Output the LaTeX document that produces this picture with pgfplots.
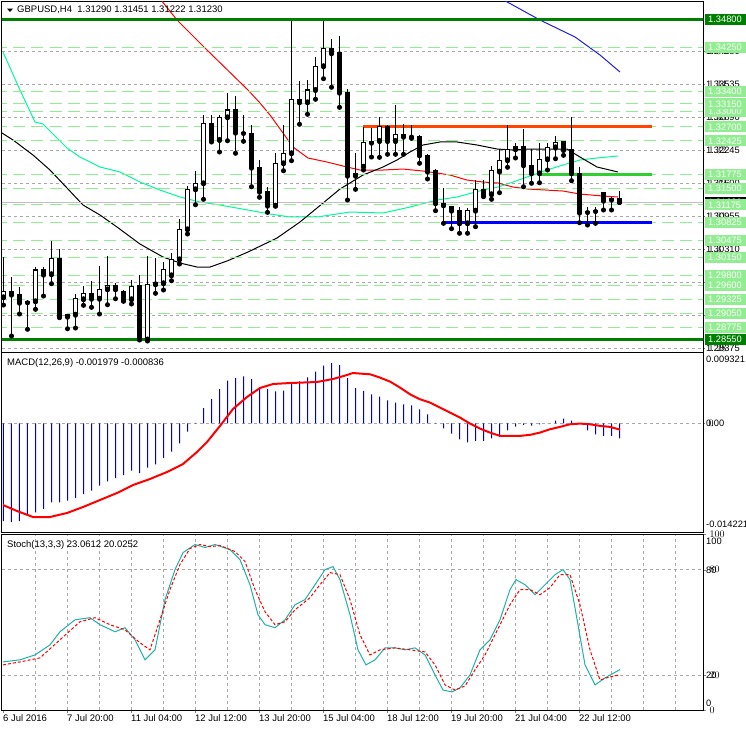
\documentclass[border=0pt]{standalone}
\usepackage{pgfplots}
\usepackage{pgfplotstable}
\pgfplotsset{compat=1.18}
\usepackage{fontspec}
\setmainfont{Liberation Sans}

\definecolor{lgreen}{HTML}{90EE90}
\definecolor{dgreen}{HTML}{008000}
\definecolor{gridgray}{HTML}{A8A8A8}
\definecolor{springg}{HTML}{00FA9A}
\definecolor{seag}{HTML}{20B2AA}
\definecolor{orng}{HTML}{FF4500}
\definecolor{limeg}{HTML}{32CD32}
\definecolor{hblue}{HTML}{0000CD}
\definecolor{bidgray}{HTML}{C0C0C0}
\definecolor{mablue}{HTML}{2020E0}

\newcommand\lblfont{\fontsize{9.3}{11}\selectfont}
\newcommand\ttlfont{\fontsize{9.5}{11}\selectfont}
\newcommand\XR{87.4375}

% candles: bullish (close > open)
\pgfplotstableread{
x o h l c
0 1.29366 1.30160 1.29215 1.29483
4 1.29287 1.29964 1.29131 1.29900
6 1.29816 1.30467 1.29632 1.30134
8 1.28986 1.29045 1.28751 1.29033
9 1.29025 1.29430 1.28765 1.29346
10 1.29327 1.29587 1.29209 1.29450
12 1.29338 1.29978 1.29039 1.29522
13 1.29522 1.30179 1.29221 1.29600
16 1.29327 1.29704 1.29235 1.29581
18 1.28540 1.30179 1.28511 1.29626
19 1.29620 1.30134 1.29444 1.29665
20 1.29640 1.30056 1.29509 1.29913
21 1.29796 1.30226 1.29690 1.30109
22 1.30109 1.30892 1.30017 1.30696
23 1.30696 1.31543 1.30604 1.31478
24 1.31478 1.31842 1.31177 1.31596
25 1.31596 1.32926 1.31283 1.32770
27 1.32443 1.32938 1.32208 1.32887
28 1.32887 1.33368 1.32429 1.33030
34 1.31158 1.32183 1.31150 1.31987
35 1.31987 1.32736 1.31842 1.32183
36 1.32183 1.34777 1.32038 1.33239
38 1.33180 1.33617 1.32946 1.33421
39 1.33421 1.34072 1.33239 1.33885
40 1.33885 1.34777 1.33642 1.34237
44 1.31744 1.32183 1.31478 1.31791
45 1.31920 1.32691 1.31856 1.32398
47 1.32423 1.32899 1.32104 1.32703
49 1.32423 1.33122 1.32163 1.32554
58 1.30813 1.31107 1.30618 1.31060
59 1.31060 1.31660 1.30747 1.31478
61 1.31381 1.31934 1.31283 1.31842
62 1.31823 1.32261 1.31412 1.32046
63 1.32046 1.32736 1.31909 1.32261
64 1.32261 1.32390 1.32091 1.32312
67 1.31791 1.32378 1.31607 1.32065
68 1.32065 1.32378 1.31856 1.32300
69 1.32300 1.32521 1.32077 1.32398
}\bull

% candles: bearish (close <= open)
\pgfplotstableread{
x o h l c
1 1.29483 1.29757 1.28609 1.29417
2 1.29430 1.29573 1.29039 1.29260
3 1.29284 1.29313 1.28740 1.29268
5 1.29900 1.29964 1.29391 1.29808
7 1.30134 1.30311 1.28967 1.29000
11 1.29450 1.29679 1.29170 1.29338
14 1.29600 1.29640 1.29338 1.29522
15 1.29483 1.29509 1.29287 1.29313
17 1.29587 1.29802 1.28530 1.28550
26 1.32770 1.32926 1.32404 1.32443
29 1.33030 1.33304 1.32183 1.32586
30 1.32593 1.32926 1.32417 1.32580
31 1.32574 1.32736 1.31529 1.31901
32 1.31909 1.32052 1.31322 1.31431
33 1.31445 1.31529 1.31028 1.31158
37 1.33239 1.33603 1.32750 1.33180
41 1.34237 1.34413 1.33474 1.34139
42 1.34151 1.34477 1.33082 1.33368
43 1.33376 1.33435 1.31269 1.31744
46 1.32423 1.32677 1.32110 1.32390
48 1.32703 1.32736 1.32163 1.32423
50 1.32554 1.32756 1.32163 1.32507
51 1.32521 1.32736 1.32476 1.32511
52 1.32507 1.32541 1.31987 1.32143
53 1.32143 1.32169 1.31680 1.31823
54 1.31842 1.31870 1.31060 1.31205
55 1.31210 1.31498 1.30813 1.31165
56 1.31138 1.31152 1.30708 1.31060
57 1.31060 1.31138 1.30618 1.30813
60 1.31478 1.31660 1.31334 1.31381
65 1.32312 1.32664 1.31529 1.31948
66 1.31948 1.32261 1.31596 1.31791
70 1.32417 1.32425 1.32143 1.32247
71 1.32261 1.32887 1.31647 1.31791
72 1.31791 1.31909 1.30825 1.31021
73 1.31048 1.31126 1.30780 1.31034
74 1.31064 1.31126 1.30813 1.31054
75 1.31420 1.31425 1.31074 1.31255
76 1.31289 1.31322 1.31074 1.31275
77 1.31290 1.31451 1.31222 1.31230
}\bear

% MACD main (histogram)
\pgfplotstableread{
x m
0 -0.012782
1 -0.012913
2 -0.012782
3 -0.011997
4 -0.011644
5 -0.011213
6 -0.010336
7 -0.010336
8 -0.010127
9 -0.009774
10 -0.009251
11 -0.008819
12 -0.008165
13 -0.007590
14 -0.007158
15 -0.006766
16 -0.006203
17 -0.006504
18 -0.005811
19 -0.005366
20 -0.004542
21 -0.003718
22 -0.002620
23 -0.001103
24 0.000050
25 0.001997
26 0.003174
27 0.004482
28 0.005568
29 0.005921
30 0.006143
31 0.005790
32 0.004704
33 0.004482
34 0.004181
35 0.004260
36 0.005136
37 0.005489
38 0.006012
39 0.006745
40 0.007530
41 0.007883
42 0.007621
43 0.005921
44 0.004613
45 0.004238
46 0.003793
47 0.003492
48 0.003008
49 0.002707
50 0.002485
51 0.002354
52 0.001831
53 0.001177
54 0.000065
55 -0.000654
56 -0.001347
57 -0.002093
58 -0.002485
59 -0.002302
60 -0.002302
61 -0.001962
62 -0.001779
63 -0.000916
64 -0.000432
65 -0.000209
66 -0.000301
67 -0.000131
68 -0.000020
69 0.000353
70 0.000615
71 0.000353
72 0.000020
73 -0.000916
74 -0.001439
75 -0.001648
76 -0.001648
77 -0.001979
}\macd

\pgfplotsset{
  mtbase/.style={
    scale only axis, width=701pt, xmin=-0.1875, xmax=87.4375,
    axis line style={black, line width=1pt},
    clip mode=individual,
    major tick length=2pt, tick align=outside,
    minor xtick={4,8,...,84}, xminorgrids=true, minor tick length=0pt,
    grid style={gridgray, line width=0.8pt, dash pattern=on 3pt off 3pt},
    minor grid style={gridgray, line width=0.8pt, dash pattern=on 3pt off 3pt},
    ytick pos=right, yticklabel={}, scaled y ticks=false,
    every axis plot/.append style={line width=1pt},
  },
  wick/.style={forget plot, only marks, mark=none,
    error bars/.cd, y dir=plus, y explicit, error mark=none,
    error bar style={black, line width=1pt, line cap=butt}},
  bodyb/.style={forget plot, only marks, mark=none,
    error bars/.cd, y dir=plus, y explicit, error mark=none,
    error bar style={black, line width=5pt, line cap=butt}},
  bodyw/.style={forget plot, only marks, mark=none,
    error bars/.cd, y dir=plus, y explicit, error mark=none,
    error bar style={white, line width=3pt, line cap=butt}},
  lvl/.style={lgreen, line width=1pt, dash pattern=on 12pt off 6pt, forget plot},
}
\tikzset{
  rb/.style={anchor=west, xshift=2pt, inner xsep=3pt, inner ysep=0pt,
    minimum height=11pt, text width=35pt, font=\lblfont, text=white},
  rt/.style={anchor=west, xshift=3pt, inner sep=0pt, font=\lblfont, text=black},
}

\begin{document}
\begin{tikzpicture}
\path[use as bounding box, fill=white] (0,0) rectangle (746pt,-731pt);

% ================= main price panel =================
\begin{axis}[mtbase, at={(2pt,-1pt)}, anchor=north west, height=351pt,
  ymin=1.28296, ymax=1.35162, xtick=\empty,
  ytick={1.28375,1.2902,1.29665,1.3031,1.30955,1.316,1.32245,1.3289,1.33535,1.3418},
  ymajorgrids]
% moving averages
\addplot[mablue, forget plot] coordinates {(62.3,1.3520) (67.06,1.34790) (71.44,1.34458) (74.56,1.34106) (77.06,1.33773)};
\addplot[red, forget plot] coordinates {(19.6,1.3520) (21.69,1.34790) (25.44,1.34203) (30.56,1.33421) (32.06,1.33167) (33.31,1.32932) (34.94,1.32580) (36.19,1.32306) (38.06,1.32091) (40.44,1.32012) (42.94,1.31915) (44.56,1.31856) (47.44,1.31856) (49.94,1.31875) (52.44,1.31836) (54.19,1.31797) (55.81,1.31758) (57.94,1.31660) (59.94,1.31621) (61.81,1.31602) (63.69,1.31523) (65.56,1.31484) (69.94,1.31445) (72.06,1.31386) (74.94,1.31347) (76.81,1.31328)};
\addplot[springg, forget plot] coordinates {(-0.06,1.34164) (2.06,1.33421) (3.94,1.32795) (4.94,1.32756) (7.94,1.32286) (9.56,1.32110) (12.06,1.31915) (14.56,1.31817) (17.06,1.31621) (19.56,1.31465) (22.06,1.31328) (24.56,1.31230) (27.06,1.31171) (30.56,1.31073) (33.31,1.30995) (35.81,1.30937) (39.19,1.30937) (43.31,1.31034) (47.44,1.31015) (50.81,1.31132) (54.19,1.31269) (56.69,1.31328) (59.94,1.31465) (61.81,1.31523) (63.69,1.31621) (65.81,1.31739) (67.94,1.31856) (69.94,1.31954) (72.06,1.32052) (74.19,1.32091) (76.81,1.32130)};
\addplot[black, forget plot] coordinates {(-0.19,1.32580) (1.19,1.32443) (3.69,1.32149) (5.81,1.31856) (7.94,1.31504) (9.94,1.31171) (12.06,1.30976) (14.19,1.30741) (17.06,1.30408) (19.94,1.30154) (22.06,1.30037) (24.19,1.29958) (25.81,1.29958) (27.94,1.30076) (30.56,1.30252) (34.19,1.30526) (37.06,1.30839) (39.94,1.31210) (42.06,1.31484) (44.94,1.31758) (47.44,1.31915) (49.19,1.32052) (50.81,1.32208) (52.44,1.32345) (54.56,1.32404) (56.69,1.32404) (59.19,1.32345) (61.69,1.32267) (63.69,1.32247) (65.81,1.32267) (67.94,1.32267) (70.44,1.32267) (72.06,1.32110) (74.19,1.31915) (76.81,1.31817)};
% light green levels
\pgfplotsinvokeforeach{1.3425,1.3340,1.3315,1.3300,1.3270,1.32425,1.31775,1.3150,1.31175,1.30825,1.30475,1.3015,1.2980,1.2960,1.29325,1.2905,1.28775}{
  \addplot[lvl] coordinates {(-1,#1) (90,#1)};
}
% bid line
\addplot[bidgray, forget plot] coordinates {(-1,1.31230) (90,1.31230)};
% thick levels
\addplot[dgreen, line width=3pt, forget plot] coordinates {(-1,1.348) (90,1.348)};
\addplot[dgreen, line width=3pt, forget plot] coordinates {(-1,1.2855) (90,1.2855)};
\addplot[orng, line width=3pt, forget plot] coordinates {(44.94,1.327) (81.06,1.327)};
\addplot[limeg, line width=3pt, forget plot] coordinates {(67.06,1.31775) (81.06,1.31775)};
\addplot[blue, line width=3pt, forget plot] coordinates {(54.94,1.30825) (81.06,1.30825)};
% candles: wicks
\addplot[wick] table[x=x, y=l, y error plus expr=\thisrow{h}-\thisrow{l}] {\bull};
\addplot[wick] table[x=x, y=l, y error plus expr=\thisrow{h}-\thisrow{l}] {\bear};
% candles: bodies
\addplot[bodyb] table[x=x, y expr={min(\thisrow{o},\thisrow{c})-0.0001}, y error plus expr={abs(\thisrow{c}-\thisrow{o})+0.0002}] {\bear};
\addplot[bodyb] table[x=x, y expr={min(\thisrow{o},\thisrow{c})-0.0001}, y error plus expr={abs(\thisrow{c}-\thisrow{o})+0.0002}] {\bull};
\addplot[bodyw] table[x=x, y expr={\thisrow{o}+0.0001}, y error plus expr={max(\thisrow{c}-\thisrow{o}-0.0002,0)}] {\bull};
% right price labels
\node[rt] at (axis cs:\XR,1.34180) {1.34180};
\node[rt] at (axis cs:\XR,1.33535) {1.33535};
\node[rt] at (axis cs:\XR,1.32890) {1.32890};
\node[rt] at (axis cs:\XR,1.32245) {1.32245};
\node[rt] at (axis cs:\XR,1.31600) {1.31600};
\node[rt] at (axis cs:\XR,1.30955) {1.30955};
\node[rt] at (axis cs:\XR,1.30310) {1.30310};
\node[rt] at (axis cs:\XR,1.29665) {1.29665};
\node[rt] at (axis cs:\XR,1.29020) {1.29020};
\node[rt] at (axis cs:\XR,1.28375) {1.28375};
\node[rb, fill=black] at (axis cs:\XR,1.31230) {1.31230};
\pgfplotsinvokeforeach{1.28775,1.29050,1.29325,1.29600,1.29800,1.30150,1.30475,1.30825,1.31175,1.31500,1.31775,1.32425,1.32700,1.33000,1.33150,1.33400,1.34250}{
  \node[rb, fill=lgreen] at (axis cs:\XR,#1) {#1};
}
\node[rb, fill=dgreen] at (axis cs:\XR,1.28550) {1.28550};
\node[rb, fill=dgreen] at (axis cs:\XR,1.34800) {1.34800};
\end{axis}

% ================= MACD panel =================
\begin{axis}[mtbase, at={(2pt,-352pt)}, anchor=north west, height=180pt,
  ymin=-0.014221, ymax=0.009321, xtick=\empty, ytick={0}, ymajorgrids]
\addplot[ybar, bar width=1pt, fill=hblue, draw=none, forget plot] table[x=x, y=m] {\macd};
\addplot[red, line width=2pt, forget plot] coordinates {(-0.06,-0.010689) (1.69,-0.011474) (3.69,-0.012259) (5.81,-0.012259) (7.94,-0.011736) (9.94,-0.010951) (12.06,-0.010036) (14.19,-0.009120) (16.19,-0.008074) (18.31,-0.007289) (20.44,-0.006373) (22.44,-0.005327) (24.19,-0.003758) (25.44,-0.002450) (27.06,-0.000357) (28.69,0.001866) (30.44,0.003436) (32.06,0.004613) (33.69,0.005136) (35.81,0.005267) (39.19,0.005398) (41.19,0.005790) (42.94,0.006313) (43.69,0.006575) (44.56,0.006500) (45.81,0.006409) (47.06,0.005977) (48.31,0.005454) (49.56,0.004669) (50.81,0.003793) (52.06,0.003139) (53.31,0.002707) (54.56,0.002053) (55.81,0.001399) (57.06,0.000745) (58.31,-0.000039) (59.56,-0.000693) (60.81,-0.001216) (62.06,-0.001648) (64.56,-0.001648) (65.81,-0.001517) (67.06,-0.001216) (68.31,-0.000785) (69.56,-0.000471) (70.81,-0.000131) (72.06,-0.000039) (73.31,-0.000131) (74.56,-0.000340) (75.81,-0.000471) (77.06,-0.000836)};
\node[rt, yshift=-7pt] at (axis cs:\XR,0.009321) {0.009321};
\node[rt] at (axis cs:\XR,0) {0.00};
\node[rt, yshift=8pt] at (axis cs:\XR,-0.014221) {-0.014221};
\end{axis}

% ================= Stochastic panel =================
\begin{axis}[mtbase, at={(2pt,-534.5pt)}, anchor=north west, height=175.5pt,
  ymin=0, ymax=100, ytick={0,20,80,100}, ymajorgrids,
  xtick={0,8,...,72}, xtick pos=left, major tick length=3pt,
  xticklabels={6 Jul 2016, 7 Jul 20:00, 11 Jul 04:00, 12 Jul 12:00, 13 Jul 20:00, 15 Jul 04:00, 18 Jul 12:00, 19 Jul 20:00, 21 Jul 04:00, 22 Jul 12:00},
  xticklabel style={anchor=north west, inner sep=0pt, xshift=-0.5pt, yshift=-1pt, font=\ttlfont}]
\addplot[seag, forget plot] coordinates {(-0.06,27.4) (2.06,28.6) (3.94,31.4) (5.81,37.1) (7.06,44.6) (8.94,51.4) (10.81,52.6) (12.06,48.6) (13.94,44.6) (15.19,46.9) (16.44,40.0) (17.69,28.6) (18.94,34.3) (20.19,62.9) (21.44,80.0) (22.44,89.7) (23.94,94.3) (25.19,92.6) (26.44,94.3) (28.31,91.4) (29.56,85.7) (30.81,71.4) (31.81,54.3) (32.69,48.6) (33.94,46.9) (35.19,51.4) (36.44,60.0) (37.69,62.9) (38.94,71.4) (40.19,80.0) (41.19,81.7) (42.06,74.3) (43.31,54.3) (44.31,34.3) (45.31,25.7) (46.44,28.6) (47.69,35.4) (48.94,35.4) (50.19,34.3) (51.44,35.4) (52.69,31.4) (53.94,20.0) (54.94,11.4) (56.06,10.3) (57.06,12.6) (58.31,20.0) (59.56,34.3) (60.81,40.0) (62.06,51.4) (63.31,68.6) (64.06,74.3) (65.19,71.4) (66.44,65.7) (67.69,71.4) (68.94,77.1) (69.94,80.0) (70.81,74.3) (71.81,48.6) (72.69,25.7) (73.94,14.3) (75.19,18.3) (77.06,23.06)};
\addplot[red, dash pattern=on 3pt off 2pt, forget plot] coordinates {(-0.06,25.7) (2.06,27.4) (4.56,29.7) (7.06,40.0) (9.56,50.3) (11.44,52.6) (13.31,48.6) (15.19,45.7) (17.06,38.3) (18.31,34.3) (19.56,51.4) (20.81,68.6) (22.06,82.9) (23.31,92.0) (24.56,94.3) (25.81,93.1) (27.06,93.7) (28.94,90.3) (30.19,84.6) (31.44,68.6) (32.69,56.0) (33.94,48.6) (35.19,50.3) (36.44,57.1) (38.31,64.0) (39.56,71.4) (40.81,78.3) (42.06,77.1) (43.31,62.9) (44.56,42.9) (45.81,31.4) (47.06,34.3) (48.94,35.4) (50.81,34.3) (52.69,33.1) (53.94,25.7) (55.19,14.3) (56.44,11.4) (57.69,13.7) (58.94,22.9) (60.19,31.4) (61.44,42.9) (63.31,60.0) (64.56,68.6) (65.81,68.6) (67.06,65.7) (68.31,69.7) (69.56,77.1) (70.81,77.1) (72.06,60.0) (73.31,34.3) (74.56,17.1) (75.81,18.9) (77.06,20.03)};
\node[rt, yshift=-7pt] at (axis cs:\XR,100) {100};
\node[rt, yshift=-1pt] at (axis cs:\XR,80) {80};
\node[rt] at (axis cs:\XR,20) {20};
\node[rt, yshift=7pt] at (axis cs:\XR,0) {0};
\end{axis}

% panel captions
\fill (7pt,-8.5pt) -- (13pt,-8.5pt) -- (10pt,-12pt) -- cycle;
\node[anchor=west, inner sep=0pt, font=\ttlfont] at (17pt,-10pt) {GBPUSD,H4\ \ 1.31290 1.31451 1.31222 1.31230};
\node[anchor=west, inner sep=0pt, font=\ttlfont] at (7pt,-363pt) {MACD(12,26,9) -0.001979 -0.000836};
\node[anchor=west, inner sep=0pt, font=\ttlfont] at (7pt,-545pt) {Stoch(13,3,3) 23.0612 20.0252};
\end{tikzpicture}
\end{document}
